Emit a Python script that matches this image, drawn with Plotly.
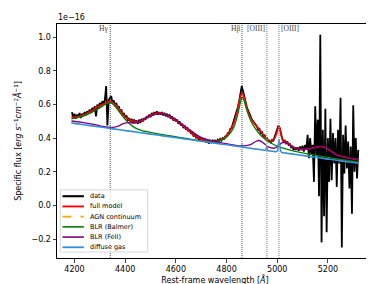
import plotly.graph_objects as go

# ---------------- data (flux in units of 1e-16 erg s^-1 cm^-2 A^-1) ----------------
lam_data = list(range(4190, 5321, 5))
flux_data = [
    0.555, 0.52, 0.545, 0.515, 0.54, 0.525, 0.55, 0.52, 0.545, 0.53,
    0.555, 0.535, 0.56, 0.545, 0.57, 0.55, 0.58, 0.56, 0.59, 0.53,
    0.60, 0.575, 0.61, 0.59, 0.62, 0.60, 0.63, 0.71, 0.475, 0.625,
    0.64, 0.65, 0.61, 0.625, 0.59, 0.61, 0.575, 0.59, 0.555, 0.57,
    0.535, 0.55, 0.52, 0.535, 0.505, 0.52, 0.50, 0.515, 0.49, 0.51,
    0.49, 0.505, 0.485, 0.51, 0.49, 0.515, 0.50, 0.52, 0.51, 0.53,
    0.52, 0.54, 0.525, 0.55, 0.535, 0.555, 0.54, 0.56, 0.54, 0.555,
    0.54, 0.555, 0.535, 0.55, 0.53, 0.545, 0.525, 0.54, 0.515, 0.53,
    0.505, 0.52, 0.50, 0.51, 0.485, 0.50, 0.475, 0.485, 0.46, 0.475,
    0.45, 0.465, 0.44, 0.45, 0.425, 0.44, 0.41, 0.425, 0.40, 0.415,
    0.39, 0.405, 0.385, 0.40, 0.38, 0.39, 0.375, 0.39, 0.368, 0.385,
    0.375, 0.39, 0.372, 0.385, 0.375, 0.39, 0.38, 0.395, 0.385, 0.40,
    0.395, 0.41, 0.41, 0.43, 0.43, 0.455, 0.46, 0.485, 0.50, 0.525,
    0.55, 0.585, 0.62, 0.665, 0.71, 0.68, 0.645, 0.62, 0.585, 0.565,
    0.55, 0.53, 0.51, 0.50, 0.49, 0.475, 0.47, 0.45, 0.455, 0.43,
    0.435, 0.41, 0.42, 0.395, 0.40, 0.38, 0.385, 0.37, 0.39, 0.385,
    0.41, 0.42, 0.45, 0.475, 0.46, 0.425, 0.395, 0.38, 0.385, 0.37,
    0.38, 0.36, 0.365, 0.345, 0.35, 0.33, 0.345, 0.33, 0.345, 0.325,
    0.35, 0.33, 0.355, 0.32, 0.36, 0.33,
    0.42, 0.28, 0.40, 0.30, 0.36, 0.14, 0.59, 0.30, 0.51, 0.055,
    1.015, -0.22, 0.45, -0.065, 0.575, -0.16, 0.40, 0.14, 0.515, 0.15,
    0.43, 0.25, 0.40, 0.11, 0.45, 0.25, 0.64, -0.25, 0.42, 0.19,
    0.475, 0.22, 0.38, 0.10, 0.35, -0.05, 0.595, 0.20, 0.40, 0.16,
    0.33,
]

lam_full = [4188, 4210, 4230, 4250, 4270, 4290, 4310, 4330, 4340, 4350, 4370, 4390,
            4410, 4430, 4450, 4470, 4490, 4510, 4530, 4550, 4570, 4590, 4610, 4630,
            4650, 4670, 4690, 4710, 4730, 4750, 4770, 4790, 4810, 4830, 4845, 4855,
            4862, 4870, 4880, 4895, 4910, 4925, 4940, 4955, 4965, 4975, 4990, 5000,
            5007, 5014, 5022, 5035, 5055, 5080, 5100, 5130, 5150, 5170, 5190, 5210,
            5235, 5260, 5290, 5320]
flux_full = [0.525, 0.527, 0.535, 0.548, 0.565, 0.585, 0.600, 0.615, 0.620, 0.612, 0.585, 0.545,
             0.515, 0.502, 0.496, 0.505, 0.527, 0.542, 0.549, 0.547, 0.533, 0.515, 0.495, 0.470,
             0.445, 0.420, 0.400, 0.388, 0.382, 0.380, 0.385, 0.400, 0.435, 0.495, 0.575, 0.650,
             0.670, 0.640, 0.580, 0.520, 0.485, 0.460, 0.430, 0.400, 0.385, 0.380, 0.400, 0.440,
             0.470, 0.430, 0.390, 0.378, 0.355, 0.336, 0.333, 0.338, 0.345, 0.350, 0.343, 0.325,
             0.300, 0.288, 0.279, 0.272]

lam_cont = [4188, 5320]
flux_cont = [0.490, 0.250]

lam_balmer = [4188, 4230, 4270, 4300, 4325, 4340, 4355, 4375, 4400, 4430, 4460, 4490,
              4530, 4580, 4640, 4700, 4740, 4770, 4795, 4815, 4830, 4845, 4855, 4861,
              4868, 4880, 4895, 4910, 4930, 4950, 4975, 5000, 5040, 5100, 5200, 5320]
flux_balmer = [0.515, 0.530, 0.555, 0.580, 0.603, 0.612, 0.598, 0.560, 0.512, 0.470, 0.448, 0.437,
               0.425, 0.413, 0.398, 0.384, 0.378, 0.382, 0.400, 0.430, 0.470, 0.545, 0.615, 0.645,
               0.628, 0.565, 0.505, 0.465, 0.425, 0.397, 0.372, 0.352, 0.333, 0.312, 0.285, 0.258]

lam_feii = [4188, 4230, 4280, 4320, 4345, 4370, 4395, 4415, 4435, 4460, 4500, 4540,
            4580, 4620, 4660, 4700, 4740, 4780, 4820, 4860, 4895, 4915, 4928, 4945,
            4965, 4985, 5000, 5018, 5035, 5055, 5080, 5100, 5130, 5150, 5170, 5190,
            5210, 5235, 5260, 5290, 5320]
flux_feii = [0.502, 0.494, 0.480, 0.468, 0.463, 0.470, 0.488, 0.492, 0.490, 0.503, 0.532, 0.546,
             0.528, 0.488, 0.443, 0.405, 0.385, 0.372, 0.362, 0.354, 0.362, 0.380, 0.386, 0.372,
             0.348, 0.340, 0.348, 0.372, 0.372, 0.352, 0.336, 0.333, 0.338, 0.345, 0.350, 0.343,
             0.325, 0.300, 0.288, 0.279, 0.272]

lam_diffuse = [4188, 4330, 4336, 4340, 4344, 4850, 4856, 4861, 4866, 4950, 4955, 4959,
               4963, 4995, 5001, 5004, 5007, 5010, 5013, 5018, 5320]
flux_diffuse = [0.490, 0.460, 0.4586, 0.468, 0.457, 0.3498, 0.3485, 0.359, 0.346, 0.3286, 0.3276, 0.352,
                0.3258, 0.3189, 0.325, 0.355, 0.395, 0.355, 0.325, 0.314, 0.250]

line_lams = [4341, 4861, 4959, 5007]
line_names = ["Hγ", "Hβ", "[OIII]", "[OIII]"]

x_ticks = [4200, 4400, 4600, 4800, 5000, 5200]
y_ticks = [-0.2, 0.0, 0.2, 0.4, 0.6, 0.8, 1.0]

series = [
    ("data", lam_data, flux_data, dict(color="black", width=1.8)),
    ("full model", lam_full, flux_full, dict(color="red", width=1.6, shape="spline")),
    ("AGN continuum", lam_cont, flux_cont, dict(color="orange", width=1.3, dash="dash")),
    ("BLR (Balmer)", lam_balmer, flux_balmer, dict(color="green", width=1.3, shape="spline")),
    ("BLR (FeII)", lam_feii, flux_feii, dict(color="purple", width=1.3, shape="spline")),
    ("diffuse gas", lam_diffuse, flux_diffuse, dict(color="#2a8fe8", width=1.5)),
]

# ---------------- figure ----------------
fig = go.Figure()
for name, xs, ys, ln in series:
    fig.add_trace(go.Scatter(x=xs, y=ys, mode="lines", name=name, line=ln, showlegend=False))

for lam, name in zip(line_lams, line_names):
    is_oiii = name == "[OIII]"
    fig.add_shape(type="line", xref="x", yref="paper", x0=lam, x1=lam, y0=0, y1=1,
                  line=dict(color="#9a9a9a" if is_oiii else "#222222",
                            width=1.3 if is_oiii else 0.8, dash="1px,1px"))
right_side = [False, False, False, True]
for lam, name, rs in zip(line_lams, line_names, right_side):
    fig.add_annotation(x=lam, y=1.0, xref="x", yref="y", text=name, showarrow=False,
                       xanchor="left" if rs else "right", yanchor="bottom", yshift=2,
                       font=dict(family="Liberation Serif", size=7.5, color="#444444"))

# ---------------- legend (drawn compactly, matplotlib style) ----------------
W, H = 317.0, 236.0  # plot area in px
def px(xp):
    return (xp - 49.0) / W
def py(yp):
    return (252.0 - yp) / H

fig.add_shape(type="rect", xref="paper", yref="paper",
              x0=px(52.3), x1=px(140), y0=py(246), y1=py(183.3),
              fillcolor="rgba(255,255,255,0.8)", line=dict(color="#cccccc", width=0.8), layer="above")
row_y = [189.7, 200.0, 210.3, 220.6, 230.9, 241.2]
for (name, xs, ys, ln), ry in zip(series, row_y):
    fig.add_shape(type="line", xref="paper", yref="paper", x0=px(54.5), x1=px(76), y0=py(ry), y1=py(ry),
                  line=dict(color=ln["color"], width=ln["width"] + 0.3, dash=ln.get("dash", "solid")),
                  layer="above")
    fig.add_annotation(x=px(80.5), y=py(ry), xref="paper", yref="paper", text=name, showarrow=False,
                       xanchor="left", yanchor="middle",
                       font=dict(family="DejaVu Sans", size=6.5, color="black"))

fig.add_annotation(x=0, y=1, xref="paper", yref="paper", text="1e−16", showarrow=False,
                   xanchor="left", yanchor="bottom", xshift=-1, yshift=0,
                   font=dict(family="DejaVu Sans", size=8, color="black"))

fig.update_layout(
    width=374, height=284,
    margin=dict(l=49, r=8, t=16, b=32),
    plot_bgcolor="white", paper_bgcolor="white",
    font=dict(family="DejaVu Sans", size=8, color="black"),
    showlegend=False,
)
fig.update_xaxes(range=[4131, 5378], tickvals=x_ticks, ticks="outside", ticklen=3.5,
                 tickwidth=0.8, showline=True, linecolor="black", linewidth=1, mirror=True,
                 showgrid=False, zeroline=False,
                 title=dict(text="Rest-frame wavelength [<i>Å</i>]", font=dict(size=8), standoff=4))
fig.update_yaxes(range=[-0.313, 1.079], tickvals=y_ticks, tickformat=".1f", ticks="outside",
                 ticklen=3.5, tickwidth=0.8, showline=True, linecolor="black", linewidth=1,
                 mirror=True, showgrid=False, zeroline=False,
                 title=dict(text="Specific flux [<i>erg s</i><sup>−1</sup><i>cm</i><sup>−2</sup><i>Å</i><sup>−1</sup>]",
                            font=dict(size=8), standoff=8))

fig.write_html("out.html")
